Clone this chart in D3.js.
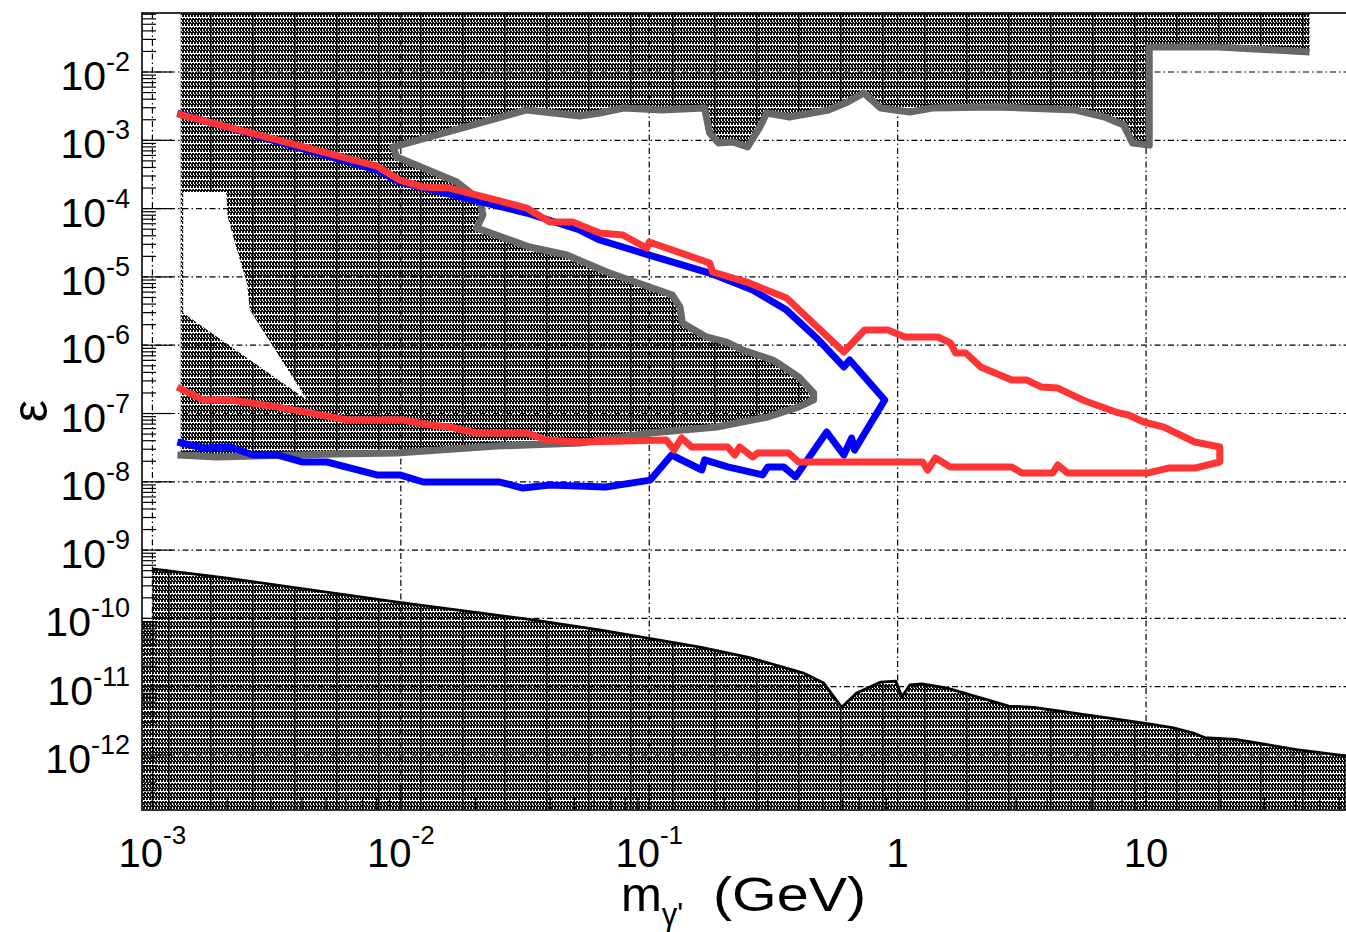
<!DOCTYPE html>
<html>
<head>
<meta charset="utf-8">
<title>epsilon vs mass</title>
<style>
body { margin: 0; background: #fff; overflow: hidden; }
svg text { font-family: "Liberation Sans", Arial, Helvetica, sans-serif; fill: #000; }
</style>
<script src="https://d3js.org/d3.v7.min.js"></script>
</head>
<body>
<script>
// axis ranges: mass in GeV, epsilon
const massDomain = [9.08e-4, 63.8];
const epsDomain = [1.567e-13, 0.0731];
const xTickValues = [1e-3, 1e-2, 1e-1, 1, 10];
const xTickLabels = [["10", "-3"], ["10", "-2"], ["10", "-1"], ["1", ""], ["10", ""]];
const yTickExps = [-12, -11, -10, -9, -8, -7, -6, -5, -4, -3, -2];

// existing exclusion, upper region boundary (right to left) [mass, eps]
const topBoundary = [[45.5, 0.0196], [19.6, 0.0232], [10.3, 0.0232], [10.3, 8.5e-4], [8.83, 9.1e-4],
  [8.12, 1.68e-3], [6.81, 2.19e-3], [5.20, 2.78e-3], [2.45, 3.08e-3], [1.38, 2.97e-3], [1.12, 2.60e-3],
  [0.973, 2.78e-3], [0.855, 2.97e-3], [0.730, 4.93e-3], [0.630, 3.64e-3], [0.527, 2.78e-3],
  [0.367, 2.19e-3], [0.297, 2.51e-3], [0.279, 1.57e-3], [0.249, 7.97e-4], [0.217, 9.44e-4],
  [0.190, 9.12e-4], [0.175, 1.28e-3], [0.167, 2.97e-3], [0.112, 2.78e-3], [0.0789, 2.97e-3],
  [0.0632, 2.51e-3], [0.0525, 2.27e-3], [0.0321, 2.78e-3], [0.0140, 1.20e-3], [0.00929, 7.97e-4]];
// beam dump tongue, upper edge (left to right) then lower edge (right to left)
const tongueUpper = [[0.00964, 5.69e-4], [0.0168, 2.45e-4], [0.0208, 1.34e-4], [0.0214, 8.05e-5],
  [0.0202, 5.20e-5], [0.0330, 2.74e-5], [0.0466, 2.09e-5], [0.0675, 1.18e-5], [0.100, 7.11e-6],
  [0.124, 5.43e-6], [0.133, 3.62e-6], [0.136, 2.11e-6], [0.170, 1.32e-6], [0.205, 1.11e-6],
  [0.238, 8.51e-7], [0.314, 6.07e-7], [0.329, 5.49e-7], [0.400, 3.42e-7], [0.459, 2.00e-7], [0.459, 1.58e-7]];
const tongueLower = [[0.400, 1.25e-7], [0.300, 8.89e-8], [0.187, 6.34e-8], [0.101, 5.18e-8],
  [0.0525, 3.70e-8], [0.0243, 3.34e-8], [0.00964, 2.64e-8], [0.00552, 2.55e-8], [0.00182, 2.31e-8],
  [0.00126, 2.47e-8]];
const hatchLeftMass = 1.30e-3;
const hatchRightMass = 45.5;

// unexcluded pocket on the left
const whiteHole = [[1.33e-3, 1.75e-4], [1.98e-3, 1.75e-4], [2.01e-3, 7.54e-5], [2.19e-3, 2.48e-5],
  [2.40e-3, 8.14e-6], [2.47e-3, 3.27e-6], [4.19e-3, 1.58e-7], [1.33e-3, 2.96e-6]];

// lower limit curve
const lowerLimit = [[1.0e-3, 5.3e-10], [2.0e-3, 3.9e-10], [1.0e-2, 1.7e-10], [3.4e-2, 9.5e-11],
  [6.3e-2, 6.8e-11], [0.160, 3.8e-11], [0.251, 2.7e-11], [0.415, 1.6e-11], [0.504, 1.13e-11],
  [0.595, 5.0e-12], [0.684, 8.1e-12], [0.855, 1.17e-11], [0.982, 1.21e-11], [1.04, 7.1e-12],
  [1.12, 1.06e-11], [1.25, 1.10e-11], [1.57, 9.6e-12], [2.30, 6.4e-12], [2.80, 5.2e-12],
  [3.53, 5.0e-12], [4.09, 4.6e-12], [7.0, 3.5e-12], [10.6, 2.8e-12], [12.9, 2.5e-12],
  [15.5, 2.1e-12], [17.2, 1.8e-12], [22.9, 1.7e-12], [40.3, 1.2e-12], [63.8, 9.7e-13]];
const lowerLeftEps = 9.5e-11;

// reach contours
const blueContour = [[1.26e-3, 2.51e-3], [3.57e-3, 8.53e-4], [8.0e-3, 3.67e-4], [9.9e-3, 2.45e-4],
  [3.21e-2, 8.62e-5], [5.25e-2, 4.86e-5], [6.32e-2, 3.47e-5], [0.100, 2.09e-5], [0.175, 1.14e-5],
  [0.261, 6.43e-6], [0.357, 3.27e-6], [0.481, 1.19e-6], [0.607, 4.80e-7], [0.641, 6.07e-7],
  [0.887, 1.58e-7], [0.671, 2.92e-8], [0.653, 4.38e-8], [0.607, 2.47e-8], [0.518, 5.36e-8],
  [0.388, 1.18e-8], [0.348, 1.65e-8], [0.300, 1.65e-8], [0.286, 1.26e-8], [0.207, 1.65e-8],
  [0.167, 2.09e-8], [0.163, 1.49e-8], [0.123, 2.47e-8], [0.101, 1.06e-8], [6.68e-2, 8.39e-9],
  [3.98e-2, 8.98e-9], [3.10e-2, 8.11e-9], [2.50e-2, 9.93e-9], [1.23e-2, 9.93e-9], [9.9e-3, 1.26e-8],
  [8.0e-3, 1.26e-8], [5.04e-3, 1.95e-8], [4.03e-3, 1.95e-8], [3.17e-3, 2.47e-8], [2.54e-3, 2.47e-8],
  [2.05e-3, 3.24e-8], [1.60e-3, 3.13e-8], [1.26e-3, 3.83e-8]];
const redContour = [[1.26e-3, 2.43e-3], [3.57e-3, 9.12e-4], [8.0e-3, 4.20e-4], [9.9e-3, 2.62e-4],
  [1.23e-2, 2.07e-4], [1.57e-2, 2.00e-4], [3.21e-2, 1.02e-4], [3.98e-2, 6.37e-5], [4.92e-2, 6.37e-5],
  [6.32e-2, 4.40e-5], [7.82e-2, 4.11e-5], [9.77e-2, 2.65e-5], [0.100, 3.24e-5], [0.175, 1.60e-5],
  [0.180, 1.18e-5], [0.247, 8.41e-6], [0.357, 4.91e-6], [0.607, 7.96e-7], [0.736, 1.67e-6],
  [0.912, 1.67e-6], [1.07, 1.32e-6], [1.45, 1.32e-6], [1.63, 1.08e-6], [1.71, 7.69e-7], [1.88, 7.69e-7],
  [2.16, 4.80e-7], [2.88, 3.09e-7], [3.31, 3.09e-7], [3.80, 2.44e-7], [4.41, 2.36e-7], [5.55, 1.58e-7],
  [7.75, 1.02e-7], [8.51, 9.50e-8], [9.78, 7.51e-8], [11.8, 6.34e-8], [15.7, 3.83e-8], [19.8, 3.24e-8],
  [19.8, 1.95e-8], [15.7, 1.59e-8], [12.3, 1.59e-8], [10.2, 1.35e-8], [4.83, 1.35e-8], [4.41, 1.76e-8],
  [4.21, 1.35e-8], [3.16, 1.35e-8], [2.88, 1.65e-8], [1.63, 1.65e-8], [1.42, 2.23e-8], [1.32, 1.49e-8],
  [1.26, 1.95e-8], [0.400, 1.95e-8], [0.364, 2.64e-8], [0.273, 2.64e-8], [0.261, 2.31e-8],
  [0.231, 3.24e-8], [0.221, 2.47e-8], [0.207, 3.24e-8], [0.148, 3.24e-8], [0.135, 4.38e-8],
  [0.126, 2.92e-8], [0.117, 4.09e-8], [5.25e-2, 3.83e-8], [3.87e-2, 4.09e-8], [3.21e-2, 5.18e-8],
  [2.02e-2, 5.18e-8], [1.57e-2, 6.34e-8], [1.31e-2, 6.79e-8], [1.02e-2, 8.04e-8], [6.06e-3, 8.04e-8],
  [4.31e-3, 1.02e-7], [3.17e-3, 1.25e-7], [2.05e-3, 1.58e-7], [1.60e-3, 1.58e-7], [1.26e-3, 2.44e-7]];

const W = 1346, H = 932;
const pLeft = 142, pTop = 13, pRight = 1346, pBottom = 810;

const svg = d3.select("body").append("svg").attr("width", W).attr("height", H);
const x = d3.scaleLog().domain(massDomain).range([pLeft, pRight]);
const y = d3.scaleLog().domain(epsDomain).range([pBottom, pTop]);
const line = d3.line().x(d => x(d[0])).y(d => y(d[1]));

const defs = svg.append("defs");
defs.append("clipPath").attr("id", "plot").append("rect")
  .attr("x", pLeft).attr("y", pTop).attr("width", pRight - pLeft).attr("height", pBottom - pTop);

// dense ROOT-like hatch: columns of little "0" shapes, white gap row every 9px
const pat = defs.append("pattern").attr("id", "hatch")
  .attr("patternUnits", "userSpaceOnUse").attr("width", 42).attr("height", 9);
const ink = "#0d0d0d";
for (let i = 0; i < 14; i++) {
  const x0 = i * 3;
  pat.append("rect").attr("x", x0).attr("y", 0).attr("width", 1).attr("height", 8).attr("fill", ink);
  pat.append("rect").attr("x", x0 + 1).attr("y", 0).attr("width", 1).attr("height", 2).attr("fill", ink);
  pat.append("rect").attr("x", x0 + 1).attr("y", 4).attr("width", 1).attr("height", 2).attr("fill", ink);
  pat.append("rect").attr("x", x0 + 2).attr("y", 1).attr("width", 1).attr("height", 3).attr("fill", ink);
  pat.append("rect").attr("x", x0 + 2).attr("y", 5).attr("width", 1).attr("height", 3).attr("fill", ink);
}
pat.append("rect").attr("x", 0).attr("y", 0).attr("width", 1.5).attr("height", 9).attr("fill", "#000");

const g = svg.append("g").attr("clip-path", "url(#plot)");

// hatched exclusion (upper region + tongue)
const hatchPoly = [[hatchLeftMass, epsDomain[1]], [hatchRightMass, epsDomain[1]],
  ...topBoundary, ...tongueUpper, ...tongueLower, [hatchLeftMass, tongueLower[tongueLower.length - 1][1]]];
g.append("path").attr("d", line(hatchPoly) + "Z").attr("fill", "url(#hatch)");
g.append("path").attr("d", line(whiteHole) + "Z").attr("fill", "#fff");

// lower hatched region
const lowerPoly = [...lowerLimit, [massDomain[1], epsDomain[0]], [massDomain[0], epsDomain[0]],
  [massDomain[0], lowerLeftEps], [lowerLimit[0][0], lowerLeftEps]];
g.append("path").attr("d", line(lowerPoly) + "Z").attr("fill", "url(#hatch)");

// grid
const dash = "6,3,1.5,3";
xTickValues.forEach(v => {
  g.append("line").attr("x1", x(v)).attr("x2", x(v)).attr("y1", pTop).attr("y2", pBottom)
    .attr("stroke", "#000").attr("stroke-width", 1.2).attr("stroke-dasharray", dash);
});
yTickExps.forEach(e => {
  g.append("line").attr("x1", pLeft).attr("x2", pRight).attr("y1", y(10 ** e)).attr("y2", y(10 ** e))
    .attr("stroke", "#000").attr("stroke-width", 1.2).attr("stroke-dasharray", dash);
});

// curve strokes
g.append("path").attr("d", line(lowerLimit)).attr("fill", "none")
  .attr("stroke", "#000").attr("stroke-width", 2.8).attr("stroke-linejoin", "round");
g.append("path").attr("d", line([...topBoundary, ...tongueUpper, ...tongueLower])).attr("fill", "none")
  .attr("stroke", "#686868").attr("stroke-width", 7).attr("stroke-linejoin", "round");
g.append("path").attr("d", line(blueContour)).attr("fill", "none")
  .attr("stroke", "#0000ff").attr("stroke-width", 7).attr("stroke-linejoin", "round");
g.append("path").attr("d", line(redContour)).attr("fill", "none")
  .attr("stroke", "#ff3535").attr("stroke-width", 7).attr("stroke-linejoin", "round");

// frame
svg.append("rect").attr("x", pLeft).attr("y", pTop).attr("width", pRight - pLeft + 4).attr("height", pBottom - pTop)
  .attr("fill", "none").attr("stroke", "#000").attr("stroke-width", 1.6);

// ticks
const ax = svg.append("g").attr("stroke", "#000").attr("stroke-width", 1.2);
for (let e = -13; e <= -1; e++) {
  for (let k = 1; k <= 9; k++) {
    const v = k * 10 ** e;
    if (v < epsDomain[0] || v > epsDomain[1]) continue;
    const len = k === 1 ? 30 : 14;
    ax.append("line").attr("x1", pLeft).attr("x2", pLeft + len).attr("y1", y(v)).attr("y2", y(v));
  }
}
for (let e = -4; e <= 1; e++) {
  for (let k = 1; k <= 9; k++) {
    const v = k * 10 ** e;
    if (v < massDomain[0] || v > massDomain[1]) continue;
    const len = k === 1 ? 24 : 12;
    ax.append("line").attr("x1", x(v)).attr("x2", x(v)).attr("y1", pBottom).attr("y2", pBottom - len);
  }
}

// y labels
yTickExps.forEach(e => {
  const t = svg.append("text").attr("x", 130).attr("y", y(10 ** e) + 18)
    .attr("text-anchor", "end").attr("font-size", 41);
  t.append("tspan").text("10");
  t.append("tspan").attr("font-size", 27).attr("dy", -19).text(e);
});

// x labels
xTickValues.forEach((v, i) => {
  const t = svg.append("text").attr("x", x(v)).attr("y", 867)
    .attr("text-anchor", "middle").attr("font-size", 40);
  t.append("tspan").text(xTickLabels[i][0]);
  if (xTickLabels[i][1]) t.append("tspan").attr("font-size", 26).attr("dy", -23).text(xTickLabels[i][1]);
});

// axis titles
const xt = svg.append("text").attr("x", 621).attr("y", 911).attr("font-size", 49);
xt.append("tspan").text("m");
xt.append("tspan").attr("font-size", 31).attr("dy", 14).text("γ'");
svg.append("text").attr("x", 713).attr("y", 911).attr("font-size", 49)
  .attr("textLength", 153).attr("lengthAdjust", "spacingAndGlyphs").text("(GeV)");

svg.append("text").attr("transform", "translate(47,411) rotate(-90)")
  .attr("text-anchor", "middle").attr("font-size", 50).text("ε");
</script>
</body>
</html>
